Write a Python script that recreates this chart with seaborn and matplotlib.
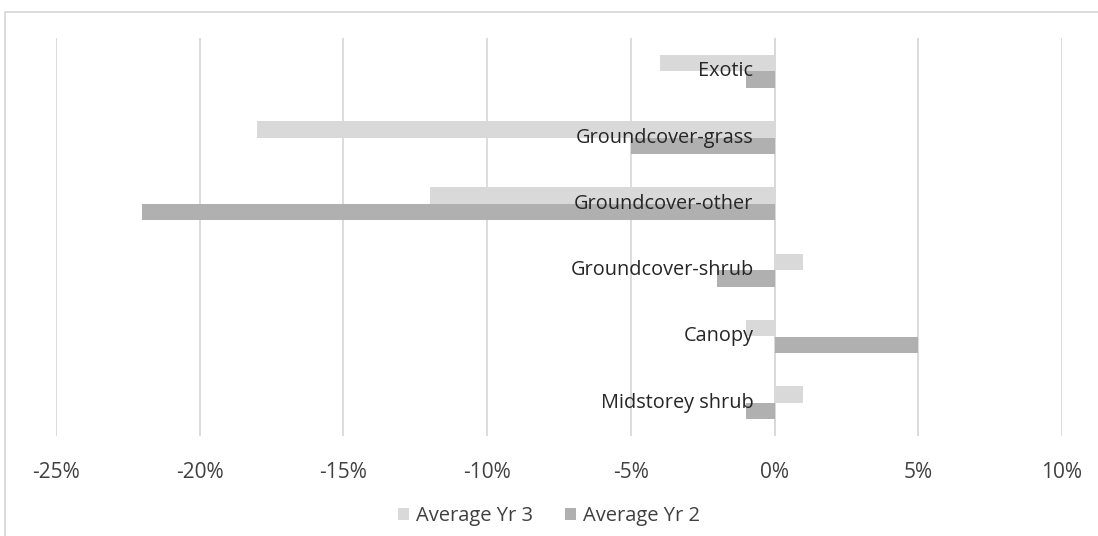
import matplotlib
matplotlib.use("Agg")
import matplotlib.pyplot as plt
import matplotlib.transforms as mtransforms
from matplotlib.patches import Rectangle
from matplotlib.ticker import FuncFormatter, MultipleLocator
import pandas as pd
import seaborn as sns

# Change in cover by vegetation layer (percentage points)
categories = ["Exotic", "Groundcover-grass", "Groundcover-other",
              "Groundcover-shrub", "Canopy", "Midstorey shrub"]
avg_yr3 = [-4, -18, -12, 1, -1, 1]
avg_yr2 = [-1, -5, -22, -2, 5, -1]
series_names = ["Average Yr 3", "Average Yr 2"]
x_ticks = [-25, -20, -15, -10, -5, 0, 5, 10]

df = pd.DataFrame({
    "category": categories * 2,
    "series": [series_names[0]] * len(categories) + [series_names[1]] * len(categories),
    "value": avg_yr3 + avg_yr2,
})

sns.set_theme(style="white")
plt.rcParams["font.family"] = ["Open Sans", "DejaVu Sans"]
plt.rcParams["axes.unicode_minus"] = False

text_color = "#404040"
grid_color = "#D9D9D9"
palette = {series_names[0]: "#D9D9D9", series_names[1]: "#B0B0B0"}

fig = plt.figure(figsize=(10.98, 5.36), dpi=100)
ax = fig.add_axes([56 / 1098, 1 - 436 / 536, (1062 - 56) / 1098, (436 - 38) / 536])

sns.barplot(data=df, y="category", x="value", hue="series", order=categories,
            hue_order=series_names, palette=palette, orient="h", width=0.5,
            saturation=1, ax=ax, legend=True, linewidth=0)

ax.set_xlim(x_ticks[0], x_ticks[-1])
ax.set_ylim(len(categories) - 0.5, -0.5)
ax.xaxis.set_major_locator(MultipleLocator(5))
ax.xaxis.set_major_formatter(FuncFormatter(lambda v, _: f"{v:.0f}%"))
ax.grid(axis="x", color=grid_color, linewidth=1.3)
ax.set_axisbelow(True)
ax.axvline(0, color=grid_color, linewidth=1.3, zorder=0.5)
for s in ax.spines.values():
    s.set_visible(False)
ax.set_yticks([])
ax.set_xlabel("")
ax.set_ylabel("")
ax.tick_params(axis="x", length=0, pad=19, labelsize=15, labelcolor=text_color)

# Category labels sit just left of the zero line
offset = mtransforms.offset_copy(ax.transData, fig=fig, x=-21, y=0, units="dots")
for i, name in enumerate(categories):
    ax.text(0, i, name, ha="right", va="center", fontsize=14.3,
            color="#262626", transform=offset, zorder=5)

handles, labels = ax.get_legend_handles_labels()
ax.legend_.remove()
fig.legend(handles, labels, loc="center", bbox_to_anchor=(0.5, 1 - 516 / 536),
           ncol=2, frameon=False, fontsize=14.5, labelcolor=text_color,
           handlelength=0.55, handleheight=0.55, handletextpad=0.35,
           columnspacing=1.6)

# Chart frame
fig.patches.append(Rectangle((5 / 1098, -0.01), 1.02, 1 - 12 / 536 + 0.01,
                             transform=fig.transFigure, fill=False,
                             edgecolor=grid_color, linewidth=1.3))

fig.savefig("out.png", dpi=100, facecolor="white")
